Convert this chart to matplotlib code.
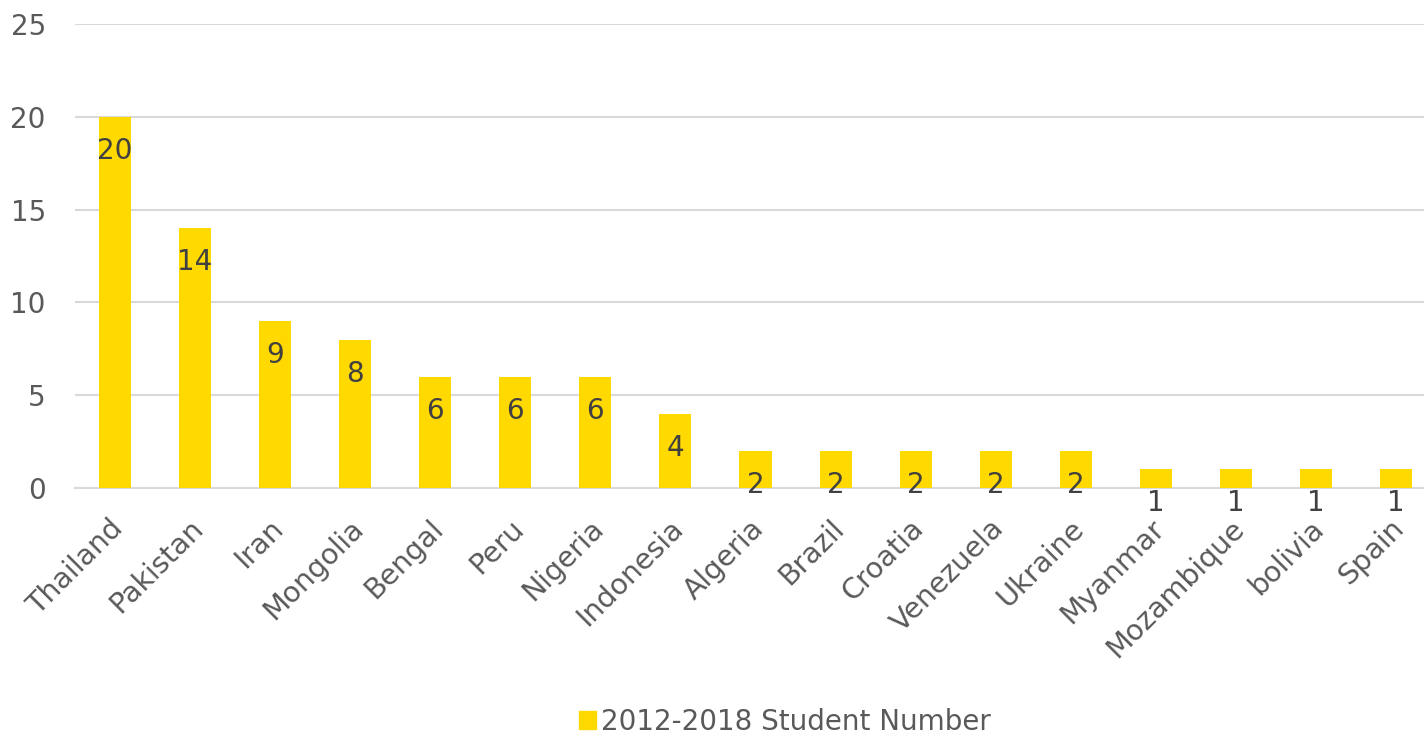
import matplotlib.pyplot as plt
import matplotlib.transforms as mtransforms
from matplotlib.patches import Patch

countries = ['Thailand', 'Pakistan', 'Iran', 'Mongolia', 'Bengal', 'Peru', 'Nigeria',
             'Indonesia', 'Algeria', 'Brazil', 'Croatia', 'Venezuela', 'Ukraine',
             'Myanmar', 'Mozambique', 'bolivia', 'Spain']
students = [20, 14, 9, 8, 6, 6, 6, 4, 2, 2, 2, 2, 2, 1, 1, 1, 1]
series_name = '2012-2018 Student Number'
y_ticks = [0, 5, 10, 15, 20, 25]

bar_color = '#FFD900'
text_color = '#595959'
grid_color = '#D9D9D9'

plt.rcParams['font.family'] = ['DejaVu Sans']

W, H = 1424, 738
fig = plt.figure(figsize=(W / 100, H / 100), dpi=100)
ax = fig.add_axes([75 / W, 1 - 488 / H, 1361 / W, (488 - 24) / H])

x = range(len(countries))
ax.bar(x, students, width=0.4, color=bar_color, zorder=3)

# value labels sit just inside the top of each bar
for i, v in enumerate(students):
    ax.annotate(str(v), (i, v), xytext=(0, -24.5), textcoords='offset points',
                ha='center', va='center', fontsize=20, color='#404040', zorder=4)

ax.set_xlim(-0.5, len(countries) - 0.5)
ax.set_ylim(0, 25)
ax.set_yticks(y_ticks)
ax.yaxis.grid(True, color=grid_color, linewidth=1.5, zorder=0)
ax.set_xticks(list(x))
ax.set_xticklabels(countries, rotation=45, ha='right', rotation_mode='anchor',
                   fontsize=20.5, color=text_color)
ax.tick_params(axis='y', labelsize=20, labelcolor=text_color, length=0, pad=21)
ax.tick_params(axis='x', length=0, pad=19)
for s in ['top', 'right', 'left']:
    ax.spines[s].set_visible(False)
ax.spines['bottom'].set_color(grid_color)
ax.spines['bottom'].set_linewidth(1.5)
ax.spines['bottom'].set_zorder(1)

# nudge category labels a little to the left
shift = mtransforms.ScaledTranslation(-6 / 100, 0, fig.dpi_scale_trans)
for lbl in ax.get_xticklabels():
    lbl.set_transform(lbl.get_transform() + shift)

fig.legend(handles=[Patch(color=bar_color, label=series_name)], loc='center',
           bbox_to_anchor=(785 / W, 1 - 722 / H), frameon=False, fontsize=20,
           labelcolor=text_color, handlelength=0.6, handleheight=0.6, handletextpad=0.2)

fig.savefig('out.png', dpi=100)
